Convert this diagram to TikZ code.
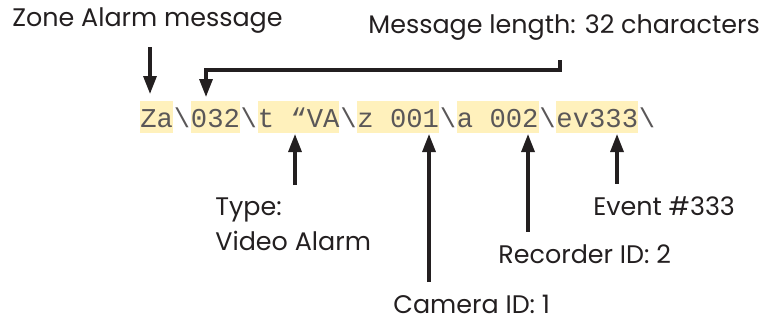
\documentclass[tikz,border=0pt]{standalone}
\usepackage{fontspec}
\setmainfont{Poppins}
\setmonofont{Liberation Mono}
\usetikzlibrary{positioning,arrows.meta}
\definecolor{ink}{HTML}{231F20}
\definecolor{hilite}{HTML}{FFF1BC}
\tikzset{
  lbl/.style={anchor=base west, inner sep=0pt, text=ink, font=\fontsize{12.7}{17.5}\selectfont, align=left},
  seg/.style={inner sep=0pt, text height=13pt, text depth=3pt, text=ink!75, font=\ttfamily\fontsize{13.6}{16}\selectfont},
  hl/.style={seg, fill=hilite},
  arr/.style={draw=ink, line width=1.6pt, -{Triangle[length=9pt,width=6.5pt]}},
}
\begin{document}
\begin{tikzpicture}[x=0.5pt,y=-0.5pt]
		\useasboundingbox (0,0) rectangle (769,322);

		% the message string
		\node[hl, anchor=base west] (za) at (140,127) {Za};
		\node[seg, right=0pt of za] (bs1) {\textbackslash};
		\node[hl, right=0pt of bs1] (len) {032};
		\node[seg, right=0pt of len] (bs2) {\textbackslash};
		\node[hl, right=0pt of bs2] (typ) {t “VA};
		\node[seg, right=0pt of typ] (bs3) {\textbackslash};
		\node[hl, right=0pt of bs3] (cam) {z 001};
		\node[seg, right=0pt of cam] (bs4) {\textbackslash};
		\node[hl, right=0pt of bs4] (rec) {a 002};
		\node[seg, right=0pt of rec] (bs5) {\textbackslash};
		\node[hl, right=0pt of bs5] (ev) {ev333};
		\node[seg, right=0pt of ev] (bs6) {\textbackslash};

		% labels
		\node[lbl] (zoneL) at (12,26) {Zone Alarm message};
		\node[lbl] (msgL) at (368,33) {Message length: 32 characters};
		\node[lbl, anchor=north west] (typL) at (215,197) {Type:\\Video Alarm};
		\node[lbl] (evL) at (593,215) {Event \#333};
		\node[lbl] (recL) at (498,263) {Recorder ID: 2};
		\node[lbl] (camL) at (393,313) {Camera ID: 1};

		% arrow tips
		\coordinate (zoneTip) at (150,94);
		\coordinate (lenBend) at (560,70);
		\coordinate (lenTip) at (206,97);
		\coordinate (typTip) at (295,134);
		\coordinate (camTip) at (429,134);
		\coordinate (recTip) at (528,134);
		\coordinate (evTip) at (617,134);

		\draw[arr] ([yshift=-10.5pt]zoneL.base -| zoneTip) -- (zoneTip);
		\draw[arr] ([yshift=-13.5pt]msgL.base -| lenBend) -- (lenBend) -| (lenTip);
		\draw[arr] ([yshift=6pt]typL.north -| typTip) -- (typTip);
		\draw[arr] ([yshift=6pt]camL.north -| camTip) -- (camTip);
		\draw[arr] ([yshift=6pt]recL.north -| recTip) -- (recTip);
		\draw[arr] ([yshift=6pt]evL.north -| evTip) -- (evTip);
	\end{tikzpicture}
\end{document}
